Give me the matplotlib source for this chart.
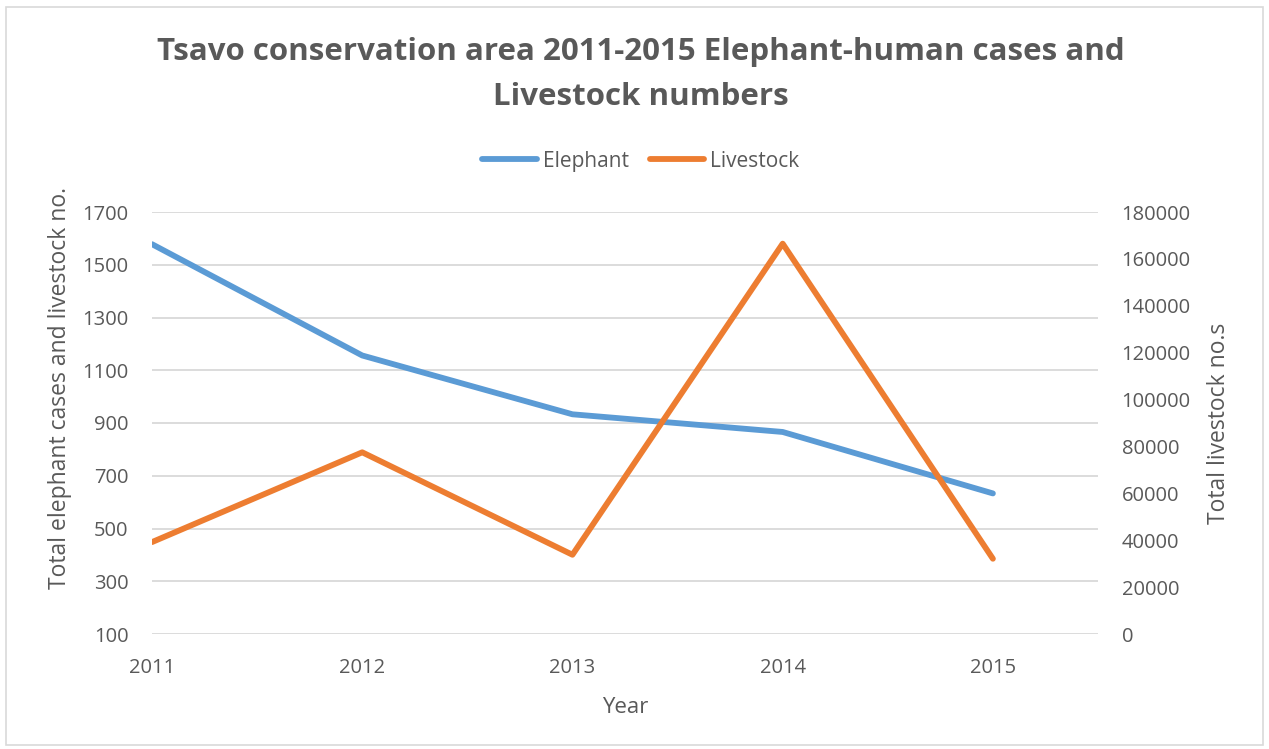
import matplotlib.pyplot as plt
from matplotlib.patches import Rectangle

plt.rcParams['font.family'] = ['Open Sans', 'DejaVu Sans']

years = [2011, 2012, 2013, 2014, 2015]
elephant = [1578, 1156, 933, 866, 633]
livestock = [39200, 77500, 33800, 166500, 32100]

text_col = '#595959'
grid_col = '#d9d9d9'
blue = '#5b9bd5'
orange = '#ed7d31'

fig = plt.figure(figsize=(12.69, 7.49), dpi=100)
fig.patches.append(Rectangle((0.005, 0.005), 0.99, 0.985, transform=fig.transFigure,
                             fill=False, edgecolor=grid_col, linewidth=1.2))

ax = fig.add_axes([152 / 1269, 1 - 634 / 749, (1098 - 152) / 1269, (634 - 212) / 749])
ax2 = ax.twinx()

l1, = ax.plot(years, elephant, color=blue, lw=4.2, solid_capstyle='round', label='Elephant')
l2, = ax2.plot(years, livestock, color=orange, lw=4.2, solid_capstyle='round', label='Livestock')

ax.set_xlim(2011, 2015.5)
ax.set_ylim(100, 1700)
ax.set_yticks(range(100, 1701, 200))
ax2.set_ylim(0, 180000)
ax2.set_yticks(range(0, 180001, 20000))
ax.set_xticks(years)

ax.grid(axis='y', color=grid_col, lw=1.3)
ax.set_axisbelow(True)
for a in (ax, ax2):
    for s in a.spines.values():
        s.set_visible(False)
    a.tick_params(length=0, labelsize=14.5, colors=text_col)
ax.tick_params(axis='y', pad=17)
ax.tick_params(axis='x', pad=17)
ax2.tick_params(axis='y', pad=17)

ax.set_xlabel('Year', fontsize=16, color=text_col)
ax.xaxis.set_label_coords(0.5, -0.15)
ax.set_ylabel('Total elephant cases and livestock no.', fontsize=16.5, color=text_col)
ax.yaxis.set_label_coords(-0.085, 0.583)
ax2.set_ylabel('Total livestock no.s', fontsize=16.5, color=text_col)
ax2.yaxis.set_label_coords(1.115, 0.5)

fig.text(0.505, 0.95, 'Tsavo conservation area 2011-2015 Elephant-human cases and\nLivestock numbers',
         ha='center', va='top', fontsize=22.5, fontweight='bold', color=text_col, linespacing=1.62)

fig.legend(handles=[l1, l2], loc='center', bbox_to_anchor=(0.505, 0.785), ncol=2,
           frameon=False, fontsize=15, labelcolor=text_col, handlelength=2.6,
           columnspacing=1.0, handletextpad=0.3)

fig.savefig('out.png', dpi=100)
